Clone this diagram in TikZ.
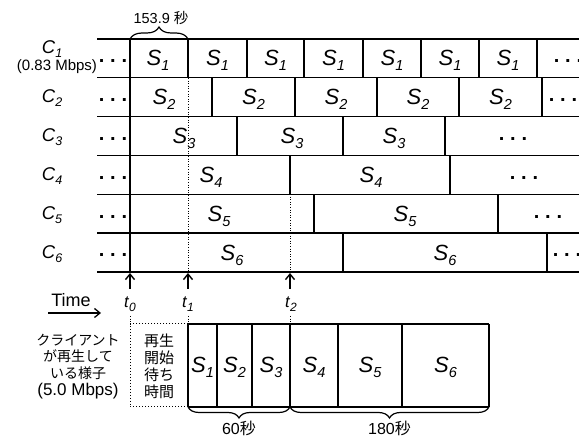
\documentclass[tikz,border=0pt]{standalone}
\usepackage{fontspec}
\setmainfont{Liberation Sans}
\newfontfamily\jp{Noto Sans CJK JP}
\usetikzlibrary{decorations.pathreplacing,arrows.meta}

\newcommand{\Sv}[1]{\textit{S}\raisebox{-5pt}{\fontsize{14.5}{14.5}\selectfont\textit{#1}}}
\newcommand{\Cv}[1]{\textit{C}\raisebox{-4pt}{\fontsize{12.5}{12.5}\selectfont\textit{#1}}}
\newcommand{\Tv}[1]{\textit{t}\raisebox{-4pt}{\fontsize{12}{12}\selectfont\textit{#1}}}
\newcommand{\dd}{\textbf{.\hspace{5.8pt}.\hspace{5.8pt}.}}

\tikzset{
  hline/.style={line width=1.3pt},
  sepline/.style={line width=1.1pt},
  guide/.style={dotted, line width=0.6pt},
  dotbox/.style={dotted, line width=1pt},
  seglabel/.style={font=\fontsize{22}{22}\selectfont, anchor=base, inner sep=0pt},
  dotlabel/.style={font=\fontsize{20}{20}\selectfont, anchor=base, inner sep=0pt},
  rowlabel/.style={font=\fontsize{18.5}{18.5}\selectfont, anchor=base, inner sep=0pt},
  tlabel/.style={font=\fontsize{16.5}{16.5}\selectfont, anchor=base, inner sep=0pt},
  uparrow/.style={line width=1.4pt, -{Straight Barb[length=5.5pt,width=9pt,line width=1.4pt]}},
  timearrow/.style={line width=1.3pt, -{Straight Barb[length=5.5pt,width=9pt,line width=1.3pt]}},
  bracket/.style={decorate, line width=1.2pt},
  jblock/.style={align=center, inner sep=0pt},
}

\begin{document}
\begin{tikzpicture}[x=1pt,y=-1pt]
\useasboundingbox (0,0) rectangle (579,438);
\clip (0,0) rectangle (579,438);

% dotted guide lines
\draw[guide] (188,78) -- (188,272);
\draw[guide] (290,194) -- (290,272);

% horizontal grid lines
\foreach \k in {0,...,6}
  \draw[hline] (97,{39+38.83*\k}) -- (579,{39+38.83*\k});
% left vertical line
\draw[sepline] (130,39) -- (130,272);

% row dividers
\foreach \x in {188,247,304,363,421,479,537} \draw[sepline] (\x,39) -- (\x,77.83);
\foreach \x in {212,295,377,459,542} \draw[sepline] (\x,77.83) -- (\x,116.66);
\foreach \x in {237,343,445} \draw[sepline] (\x,116.66) -- (\x,155.49);
\foreach \x in {290,450} \draw[sepline] (\x,155.49) -- (\x,194.32);
\foreach \x in {314,498} \draw[sepline] (\x,194.32) -- (\x,233.15);
\foreach \x in {343,547} \draw[sepline] (\x,233.15) -- (\x,272);

% segment labels
\foreach \x [count=\i] in {158,217.5,275.5,333.5,392,450,508}
  \node[seglabel] (s1-\i) at (\x,66) {\Sv{1}};
\foreach \x [count=\i] in {164,253.5,336,418,500.5}
  \node[seglabel] (s2-\i) at (\x,104.8) {\Sv{2}};
\foreach \x [count=\i] in {184,292,394}
  \node[seglabel] (s3-\i) at (\x,143.7) {\Sv{3}};
\foreach \x [count=\i] in {211,371}
  \node[seglabel] (s4-\i) at (\x,182.5) {\Sv{4}};
\foreach \x [count=\i] in {219,405}
  \node[seglabel] (s5-\i) at (\x,221.3) {\Sv{5}};
\foreach \x [count=\i] in {232,445}
  \node[seglabel] (s6-\i) at (\x,260.1) {\Sv{6}};

% dots
\foreach \y [count=\i] in {62.9,101.7,140.6,179.4,218.2,257}
  \node[dotlabel] (ld-\i) at (113,\y) {\dd};
\node[dotlabel] (rd-1) at (568,62.9) {\dd};
\node[dotlabel] (rd-2) at (563,101.7) {\dd};
\node[dotlabel] (rd-3) at (513,140.6) {\dd};
\node[dotlabel] (rd-4) at (524,179.4) {\dd};
\node[dotlabel] (rd-5) at (548,218.2) {\dd};
\node[dotlabel] (rd-6) at (567,257) {\dd};

% row labels
\node[rowlabel] (c1) at (52,54) {\Cv{1}};
\node[font=\fontsize{15}{15}\selectfont, anchor=base, inner sep=0pt] (rate1) at (57,71) {(0.83 Mbps)};
\node[rowlabel] (c2) at (52,103) {\Cv{2}};
\node[rowlabel] (c3) at (52,141.9) {\Cv{3}};
\node[rowlabel] (c4) at (52,180.7) {\Cv{4}};
\node[rowlabel] (c5) at (52,219.5) {\Cv{5}};
\node[rowlabel] (c6) at (52,258.3) {\Cv{6}};

% top brace
\draw[bracket, decoration={brace, amplitude=12pt}] (130,39) -- (188,39);
\node[font=\fontsize{14.5}{14.5}\selectfont, anchor=base, inner sep=0pt] (period) at (161,24) {153.9 {\jp 秒}};

% time arrows
\node[tlabel] (t0) at (130,308) {\Tv{0}};
\node[tlabel] (t1) at (188,308) {\Tv{1}};
\node[tlabel] (t2) at (291,308) {\Tv{2}};
\coordinate (a0) at (130,289); \coordinate (b0) at (130,273);
\coordinate (a1) at (188,289); \coordinate (b1) at (188,273);
\coordinate (a2) at (290,289); \coordinate (b2) at (290,273);
\draw[uparrow] (a0) -- (b0);
\draw[uparrow] (a1) -- (b1);
\draw[uparrow] (a2) -- (b2);

\node[font=\fontsize{18}{18}\selectfont, anchor=base, inner sep=0pt] (time) at (71,307) {Time};
\coordinate (ta) at (48,313); \coordinate (tb) at (101,313);
\draw[timearrow] (ta) -- (tb);

% guides from t labels to playback box
\coordinate (g0) at (130,324); \coordinate (g1) at (188,324); \coordinate (g2) at (290,324);
\draw[guide] (130,316) -- (g0);
\draw[guide] (188,316) -- (g1);
\draw[guide] (290,316) -- (g2);

% playback
\draw[dotbox] (188,324) -- (130,324) -- (130,407) -- (188,407);
\draw[hline] (188,324) -- (489,324);
\draw[hline] (188,407) -- (489,407);
\draw[sepline] (188,324) -- (188,407);
\draw[sepline] (489,324) -- (489,407);
\foreach \x in {217,252,290,338,402} \draw[sepline] (\x,324) -- (\x,407);
\foreach \x/\n [count=\i] in {202.5/1,234.5/2,271/3,314/4,370/5,445.5/6}
  \node[seglabel] (p\i) at (\x,373) {\Sv{\n}};

\node[jblock, font=\jp\fontsize{14}{16.8}\selectfont] (client) at (78,366.5)
  {クライアント\\が再生して\\いる様子\\{\rmfamily\fontsize{17}{16.8}\selectfont (5.0 Mbps)}};
\node[jblock, font=\jp\fontsize{15}{17.2}\selectfont] (wait) at (159,366.5)
  {再生\\開始\\待ち\\時間};

% bottom braces
\draw[bracket, decoration={brace, amplitude=11pt}] (290,407) -- (188,407);
\draw[bracket, decoration={brace, amplitude=11pt}] (489,407) -- (290,407);
\node[font=\fontsize{16}{16}\selectfont, anchor=base, inner sep=0pt] (d60) at (239,435) {60{\jp 秒}};
\node[font=\fontsize{16}{16}\selectfont, anchor=base, inner sep=0pt] (d180) at (389.5,435) {180{\jp 秒}};
\end{tikzpicture}
\end{document}
